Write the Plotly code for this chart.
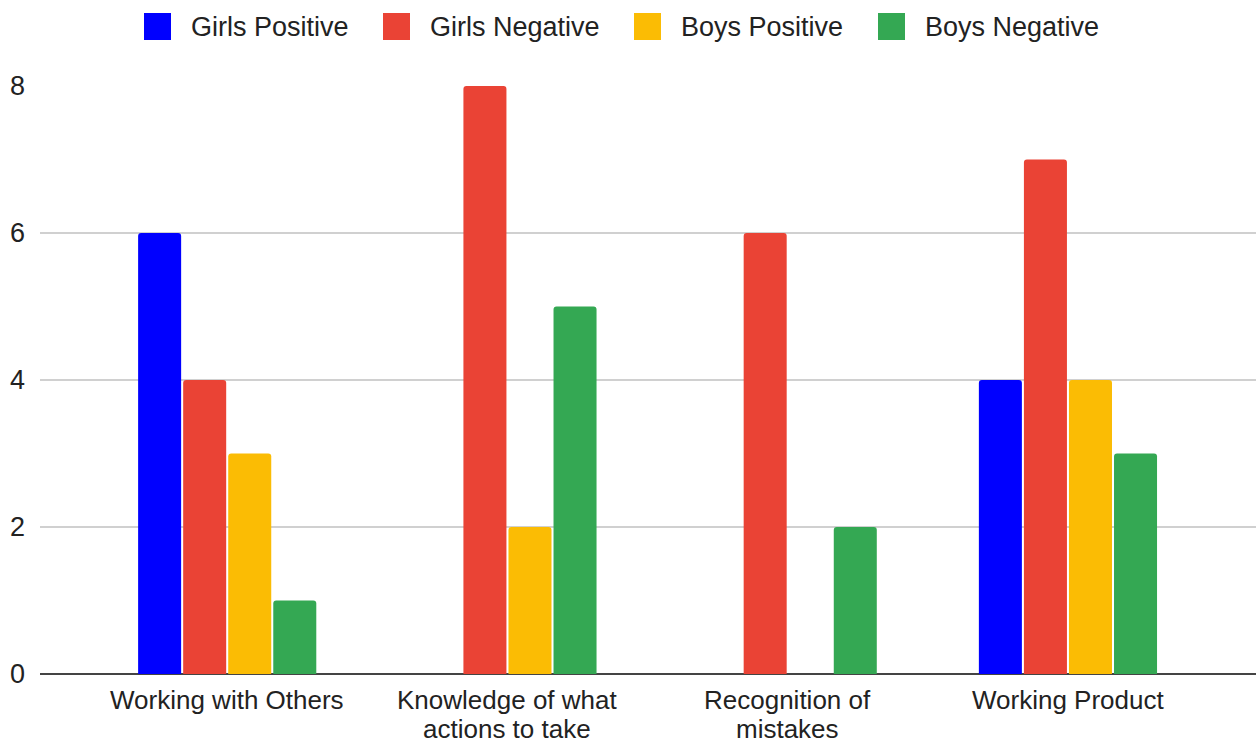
import plotly.graph_objects as go

categories = ["Working with Others", "Knowledge of what<br>actions to take", "Recognition of<br>mistakes", "Working Product"]
series_names = ["Girls Positive", "Girls Negative", "Boys Positive", "Boys Negative"]
girls_positive = [6, 0, 0, 4]
girls_negative = [4, 8, 6, 7]
boys_positive = [3, 2, 0, 4]
boys_negative = [1, 5, 2, 3]
colors = ["#0000ff", "#ea4335", "#fbbc04", "#34a853"]
y_ticks = [0, 2, 4, 6, 8]

values = [girls_positive, girls_negative, boys_positive, boys_negative]

W, H = 1256, 744
ML, MR, MT, MB = 40, 0, 86, 70
PW, PH = W - ML - MR, H - MT - MB
FONT = "Liberation Sans, Arial, sans-serif"
TXT = "#222222"
FS = 27
FS_CAT = 26


def px_x(px):
    return (px - ML) / PW


def px_y(py):
    return (H - MB - py) / PH


fig = go.Figure()
for name, vals, col in zip(series_names, values, colors):
    fig.add_trace(go.Bar(x=categories, y=vals, name=name,
                         marker=dict(color=col, line=dict(width=0), cornerradius=3),
                         showlegend=False))

# manual legend (large square swatches)
legend_sq_left = [144, 383, 634, 878]
shapes = []
annotations = []
for name, col, left in zip(series_names, colors, legend_sq_left):
    shapes.append(dict(type="rect", xref="paper", yref="paper",
                       x0=px_x(left), x1=px_x(left + 27), y0=px_y(40), y1=px_y(13),
                       fillcolor=col, line=dict(width=0)))
    annotations.append(dict(xref="paper", yref="paper", x=px_x(left + 45), y=px_y(27),
                            xanchor="left", yanchor="middle", showarrow=False, text=name,
                            font=dict(family=FONT, size=FS, color=TXT)))

# category labels with tighter line spacing
for cat in categories:
    for i, line in enumerate(cat.split("<br>")):
        annotations.append(dict(xref="x", yref="paper", x=cat, y=0, yshift=-25.5 - 29 * i,
                                xanchor="center", yanchor="middle", showarrow=False, text=line,
                                font=dict(family=FONT, size=FS_CAT, color=TXT)))

fig.update_layout(
    width=W, height=H,
    margin=dict(l=ML, r=MR, t=MT, b=MB),
    paper_bgcolor="white", plot_bgcolor="white",
    font=dict(family=FONT, size=FS, color=TXT),
    barmode="group", bargap=0.357, bargroupgap=0.045,
    showlegend=False,
    shapes=shapes, annotations=annotations,
    xaxis=dict(range=[-0.668, 3.671], showgrid=False, showline=False, zeroline=False,
               ticks="", showticklabels=False),
    yaxis=dict(range=[0, 8], tickvals=y_ticks, showgrid=True, gridcolor="#d0d0d0", gridwidth=1.5,
               zeroline=True, zerolinecolor="#444", zerolinewidth=1.5, showline=False,
               ticks="", ticklabelstandoff=14, tickfont=dict(family=FONT, size=FS, color=TXT)),
)

fig.write_html("out.html")
